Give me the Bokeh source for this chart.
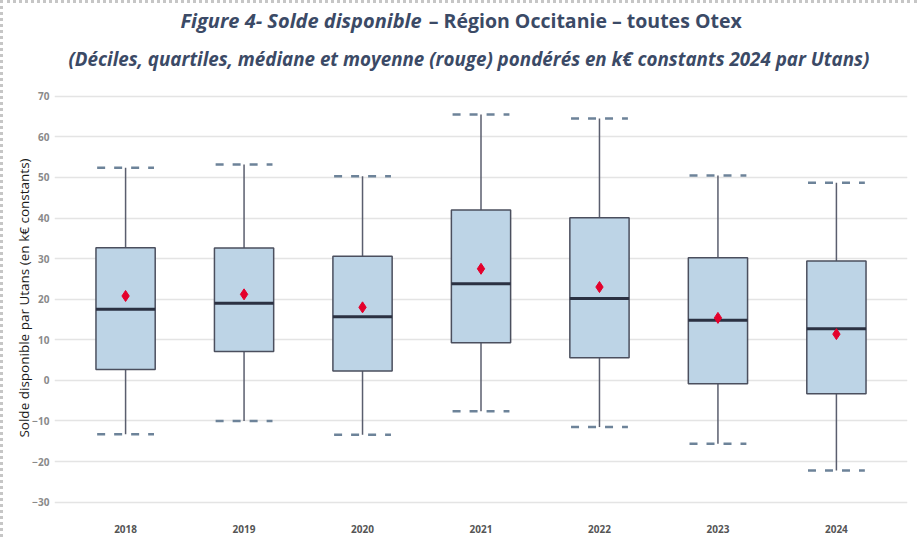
from bokeh.plotting import figure
from bokeh.layouts import column
from bokeh.models import Range1d, FixedTicker, Label, ColumnDataSource
from bokeh.embed import file_html
from bokeh.resources import INLINE

years = ["2018", "2019", "2020", "2021", "2022", "2023", "2024"]
d9 = [52.4, 53.2, 50.3, 65.5, 64.5, 50.5, 48.7]
q3 = [32.7, 32.6, 30.6, 42.0, 40.1, 30.2, 29.4]
med = [17.5, 19.0, 15.7, 23.8, 20.2, 14.8, 12.7]
mean = [20.8, 21.2, 18.0, 27.5, 23.0, 15.4, 11.4]
q1 = [2.7, 7.1, 2.3, 9.3, 5.6, -0.8, -3.3]
d1 = [-13.3, -10.0, -13.4, -7.6, -11.5, -15.6, -22.2]

title_italic = "Figure 4- Solde disponible"
title_plain = "– Région Occitanie – toutes Otex"
subtitle = "(Déciles, quartiles, médiane et moyenne (rouge) pondérés en k€ constants 2024 par Utans)"
y_label = "Solde disponible par Utans (en k€ constants)"

xs = list(range(len(years)))
src = ColumnDataSource(dict(
    x=xs, d9=d9, q3=q3, med=med, mean=mean, q1=q1, d1=d1,
    xl=[v - 0.24 for v in xs], xr=[v + 0.24 for v in xs],
    ml=[v - 0.25 for v in xs], mr=[v + 0.25 for v in xs],
))

# ---- title strip ----
W = 914
TH = 71
t = figure(width=W, height=TH, output_backend="svg", toolbar_location=None,
           x_range=Range1d(0, W), y_range=Range1d(TH, 0),
           min_border=0, x_axis_type=None, y_axis_type=None)
t.outline_line_color = None
t.grid.grid_line_color = None
title_color = "#3b4a66"
t.add_layout(Label(x=135, y=17, text=title_italic, text_align="left",
                   text_baseline="middle", text_font="Open Sans", text_font_size="20px",
                   text_font_style="bold italic", text_color=title_color))
t.add_layout(Label(x=401, y=17, text=title_plain, text_align="left",
                   text_baseline="middle", text_font="Open Sans", text_font_size="19.5px",
                   text_font_style="bold", text_color=title_color))
t.add_layout(Label(x=15, y=55, text=subtitle,
                   text_align="left", text_baseline="middle", text_font="Open Sans",
                   text_font_size="18.8px", text_font_style="bold italic",
                   text_color=title_color))

# ---- main plot ----
p = figure(width=W, height=463, output_backend="svg", toolbar_location=None,
           x_range=Range1d(-0.6, 6.6), y_range=Range1d(-32.8, 73.4),
           min_border_left=51, min_border_right=10, min_border_top=8,
           min_border_bottom=24)
p.outline_line_color = None

p.xgrid.grid_line_color = None
p.ygrid.grid_line_color = "#e4e4e4"
p.ygrid.grid_line_width = 1.5
p.yaxis.ticker = FixedTicker(ticks=[-30, -20, -10, 0, 10, 20, 30, 40, 50, 60, 70])
p.xaxis.ticker = FixedTicker(ticks=xs)
p.xaxis.major_label_overrides = {i: y for i, y in enumerate(years)}
for ax in (p.xaxis, p.yaxis):
    ax.axis_line_color = None
    ax.major_tick_line_color = None
    ax.minor_tick_line_color = None
    ax.major_tick_out = 0
    ax.major_tick_in = 0
    ax.major_label_text_color = "#8a8a8a"
    ax.major_label_text_font = "Open Sans"
    ax.major_label_text_font_size = "10px"
    ax.major_label_text_font_style = "bold"
p.xaxis.major_label_text_color = "#555555"
p.xaxis.major_label_standoff = 11
p.yaxis.major_label_standoff = 5
p.yaxis.axis_label = y_label
p.yaxis.axis_label_text_font = "Open Sans"
p.yaxis.axis_label_text_font_size = "13.5px"
p.yaxis.axis_label_text_font_style = "normal"
p.yaxis.axis_label_text_color = "#1a1a1a"
p.yaxis.axis_label_standoff = -4

p.segment("x", "q3", "x", "d9", source=src, line_color="#5a5e6e", line_width=1.5)
p.segment("x", "q1", "x", "d1", source=src, line_color="#5a5e6e", line_width=1.5)
p.segment("xl", "d9", "xr", "d9", source=src, line_color="#6d8399", line_width=2.5, line_dash="8 9")
p.segment("xl", "d1", "xr", "d1", source=src, line_color="#6d8399", line_width=2.5, line_dash="8 9")
p.vbar(x="x", width=0.5, top="q3", bottom="q1", source=src,
       fill_color="#bdd4e6", line_color="#4b4f5e", line_width=1.5)
p.segment("ml", "med", "mr", "med", source=src, line_color="#2b3142", line_width=3)
p.scatter("x", "mean", source=src, marker="diamond", size=11,
          fill_color="#e4002b", line_color="#e4002b")

layout = column(t, p, spacing=0)
layout.styles = {"border-left": "3px dotted #c6c6c6", "border-top": "3px dotted #c6c6c6"}

open("out.html", "w").write(file_html(layout, INLINE))
